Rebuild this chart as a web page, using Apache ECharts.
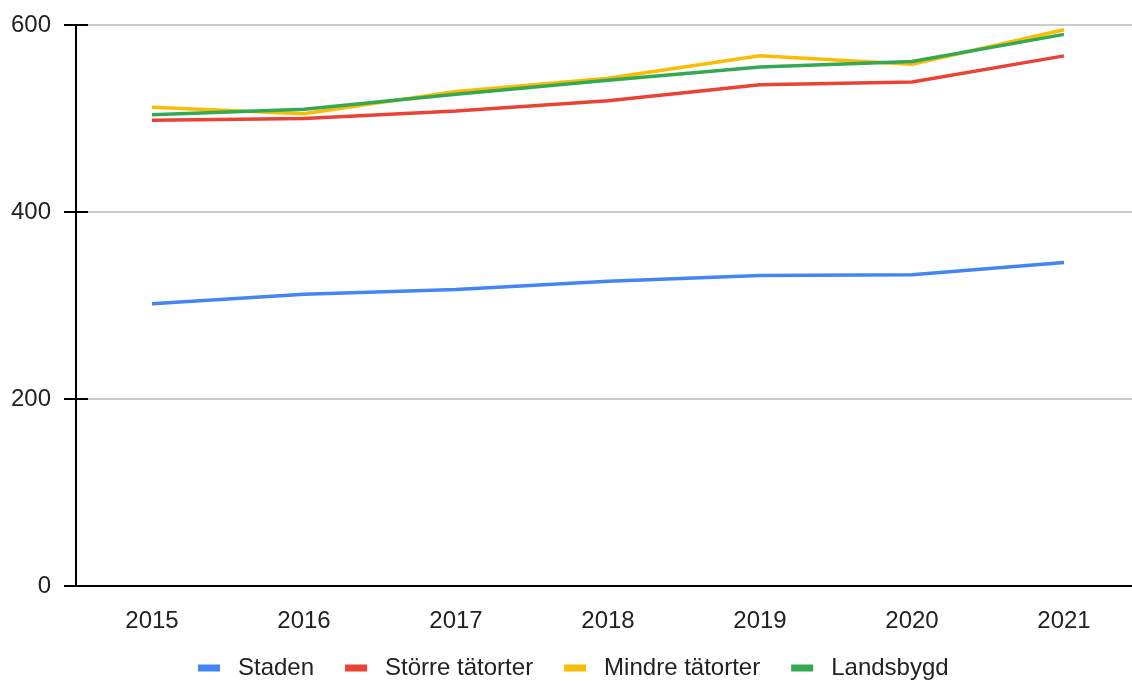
<!DOCTYPE html>
<html><head><meta charset="utf-8">
<script src="https://cdn.jsdelivr.net/npm/echarts@6/dist/echarts.min.js"></script>
<style>html,body{margin:0;padding:0;background:#fff}#c{width:1132px;height:681px}</style>
</head><body><div id="c"></div>
<script>
const years = ['2015','2016','2017','2018','2019','2020','2021'];
const staden = [302, 312, 317, 326, 332, 333, 346];
const storre = [498, 500, 508, 519, 536, 539, 567];
const mindre = [512, 505, 529, 543, 567, 558, 595];
const landsbygd = [504, 510, 526, 541, 555, 561, 590];
const yTicks = [0, 200, 400, 600];

const names = ['Staden', 'Större tätorter', 'Mindre tätorter', 'Landsbygd'];
const colors = ['#4285F4', '#EA4335', '#FBBC04', '#34A853'];
const datas = [staden, storre, mindre, landsbygd];

const chart = echarts.init(document.getElementById('c'), null, {renderer: 'canvas'});
const font = 'Arial, "Liberation Sans", sans-serif';
const yMin = yTicks[0], yMax = yTicks[yTicks.length - 1], yStep = yTicks[1] - yTicks[0];
chart.setOption({
  animation: false,
  backgroundColor: '#fff',
  textStyle: {fontFamily: font},
  grid: {left: 76, top: 25, width: 1064, bottom: 95, outerBoundsMode: 'none', containLabel: false},
  legend: {
    data: names.map((n, i) => ({name: n, icon: 'rect', itemStyle: {color: colors[i]}})),
    top: 656, left: 198, padding: 0,
    itemWidth: 22, itemHeight: 7, itemGap: 31,
    textStyle: {fontSize: 24, color: '#222', fontFamily: font, padding: [0, 0, 0, 13]}
  },
  xAxis: [{
    type: 'category', data: years, boundaryGap: true,
    axisLine: {lineStyle: {color: '#000', width: 2}},
    axisTick: {alignWithLabel: true, length: 12, lineStyle: {color: '#000', width: 2}},
    axisLabel: {fontSize: 24, color: '#222', margin: 23}
  }, {
    type: 'category', data: years, position: 'bottom', boundaryGap: true,
    axisLine: {show: false},
    axisTick: {alignWithLabel: true, inside: true, length: 11, lineStyle: {color: '#000', width: 2}},
    axisLabel: {show: false}
  }],
  yAxis: [{
    type: 'value', min: yMin, max: yMax, interval: yStep,
    axisLine: {show: true, lineStyle: {color: '#000', width: 2}},
    axisTick: {show: true, length: 12, lineStyle: {color: '#000', width: 2}},
    axisLabel: {fontSize: 24, color: '#222', margin: 25},
    splitLine: {lineStyle: {color: '#cccccc', width: 2}}
  }, {
    type: 'value', min: yMin, max: yMax, interval: yStep, position: 'left',
    axisLine: {show: false},
    axisTick: {show: true, inside: true, length: 12, lineStyle: {color: '#000', width: 2}},
    axisLabel: {show: false},
    splitLine: {show: false}
  }],
  series: datas.map((d, i) => ({
    name: names[i], type: 'line', data: d, xAxisIndex: 0, yAxisIndex: 0,
    symbol: 'none', lineStyle: {width: 3.5, color: colors[i]},
    itemStyle: {color: colors[i]}
  }))
});
</script></body></html>
